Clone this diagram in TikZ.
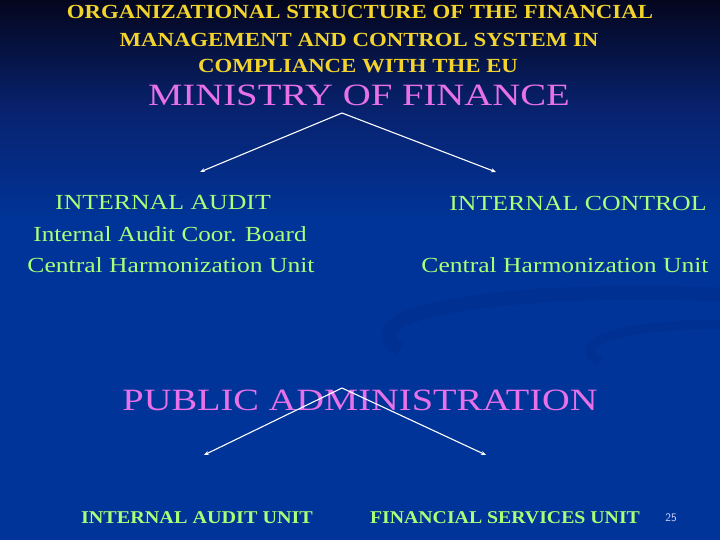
\documentclass[tikz,border=0pt]{standalone}
\usepackage{fontspec}
\usepackage{tikz}
\usepackage{xcolor}
\usetikzlibrary{arrows.meta}
\setmainfont{Liberation Serif}

\definecolor{slidetop}{RGB}{4,6,30}
\definecolor{slidemid}{RGB}{8,34,110}
\definecolor{slideblue}{RGB}{0,52,152}
\definecolor{swirl}{RGB}{0,42,130}
\definecolor{titleyellow}{RGB}{242,212,44}
\definecolor{headpink}{RGB}{232,112,232}
\definecolor{unitgreen}{RGB}{170,255,120}

% text stretched sideways
\newcommand\slidetext[2][1.2]{\scalebox{#1}[1]{#2}}

\tikzset{
  title/.style={text=titleyellow, inner sep=0pt, font=\bfseries\fontsize{20}{22}\selectfont},
  head/.style={text=headpink, inner sep=0pt, font=\fontsize{31}{36}\selectfont},
  unit/.style={text=unitgreen, inner sep=0pt, font=\fontsize{21.5}{24}\selectfont},
  smallunit/.style={text=unitgreen, inner sep=0pt, font=\bfseries\fontsize{18}{22}\selectfont},
  link/.style={draw=white, line width=1.1pt, -{Stealth[length=5pt,width=4pt]}}
}

\begin{document}
\begin{tikzpicture}[x=1pt, y=-1pt]
                % Background
                \useasboundingbox (0,0) rectangle (720,540);
                \fill[slideblue] (0,0) rectangle (720,540);
                \shade[top color=slidetop, bottom color=slideblue, middle color=slidemid] (0,0) rectangle (720,220);
                % faint swirl
                \draw[swirl, line width=14pt, opacity=0.3] (730,295) .. controls (520,285) and (340,310) .. (400,350);
                \draw[swirl, line width=9pt, opacity=0.3] (730,325) .. controls (640,322) and (560,340) .. (600,362);

                % Title
                \node[title] (t1) at (360,12) {\slidetext[1.14]{ORGANIZATIONAL STRUCTURE OF THE FINANCIAL}};
                \node[title] (t2) at (359,40) {\slidetext[1.14]{MANAGEMENT AND CONTROL SYSTEM IN}};
                \node[title] (t3) at (358,66) {\slidetext[1.14]{COMPLIANCE WITH THE EU}};

                % Ministry of finance
                \node[head] (mof) at (359,95) {\slidetext[1.25]{MINISTRY OF FINANCE}};
                \coordinate (mtop) at (342,113);
                \coordinate (mleft) at (200,172);
                \coordinate (mright) at (496,172);
                \draw[link] (mtop) -- (mleft);
                \draw[link] (mtop) -- (mright);

                % left side
                \node[unit] (ia) at (163,203) {\slidetext{INTERNAL AUDIT}};
                \node[unit] (iacb) at (170,234) {\slidetext[1.17]{Internal Audit Coor. Board}};
                \node[unit] (chul) at (171,265) {\slidetext[1.19]{Central Harmonization Unit}};
                % right side
                \node[unit] (ic) at (578,203) {\slidetext{INTERNAL CONTROL}};
                \node[unit] (chur) at (565,265) {\slidetext[1.19]{Central Harmonization Unit}};

                % Public administration
                \node[head] (pa) at (360,400) {\slidetext[1.24]{PUBLIC ADMINISTRATION}};
                \coordinate (ptop) at (342,388);
                \coordinate (pleft) at (204,455);
                \coordinate (pright) at (486,455);
                \draw[link] (ptop) -- (pleft);
                \draw[link] (ptop) -- (pright);

                \node[smallunit] (iau) at (197,518) {\slidetext[1.12]{INTERNAL AUDIT UNIT}};
                \node[smallunit] (fsu) at (505,518) {\slidetext[1.1]{FINANCIAL SERVICES UNIT}};

                % page number
                \node[text=white!85!blue, inner sep=0pt, font=\sffamily\fontsize{11.5}{13}\selectfont] (pg) at (671,518) {25};
            \end{tikzpicture}
\end{document}
